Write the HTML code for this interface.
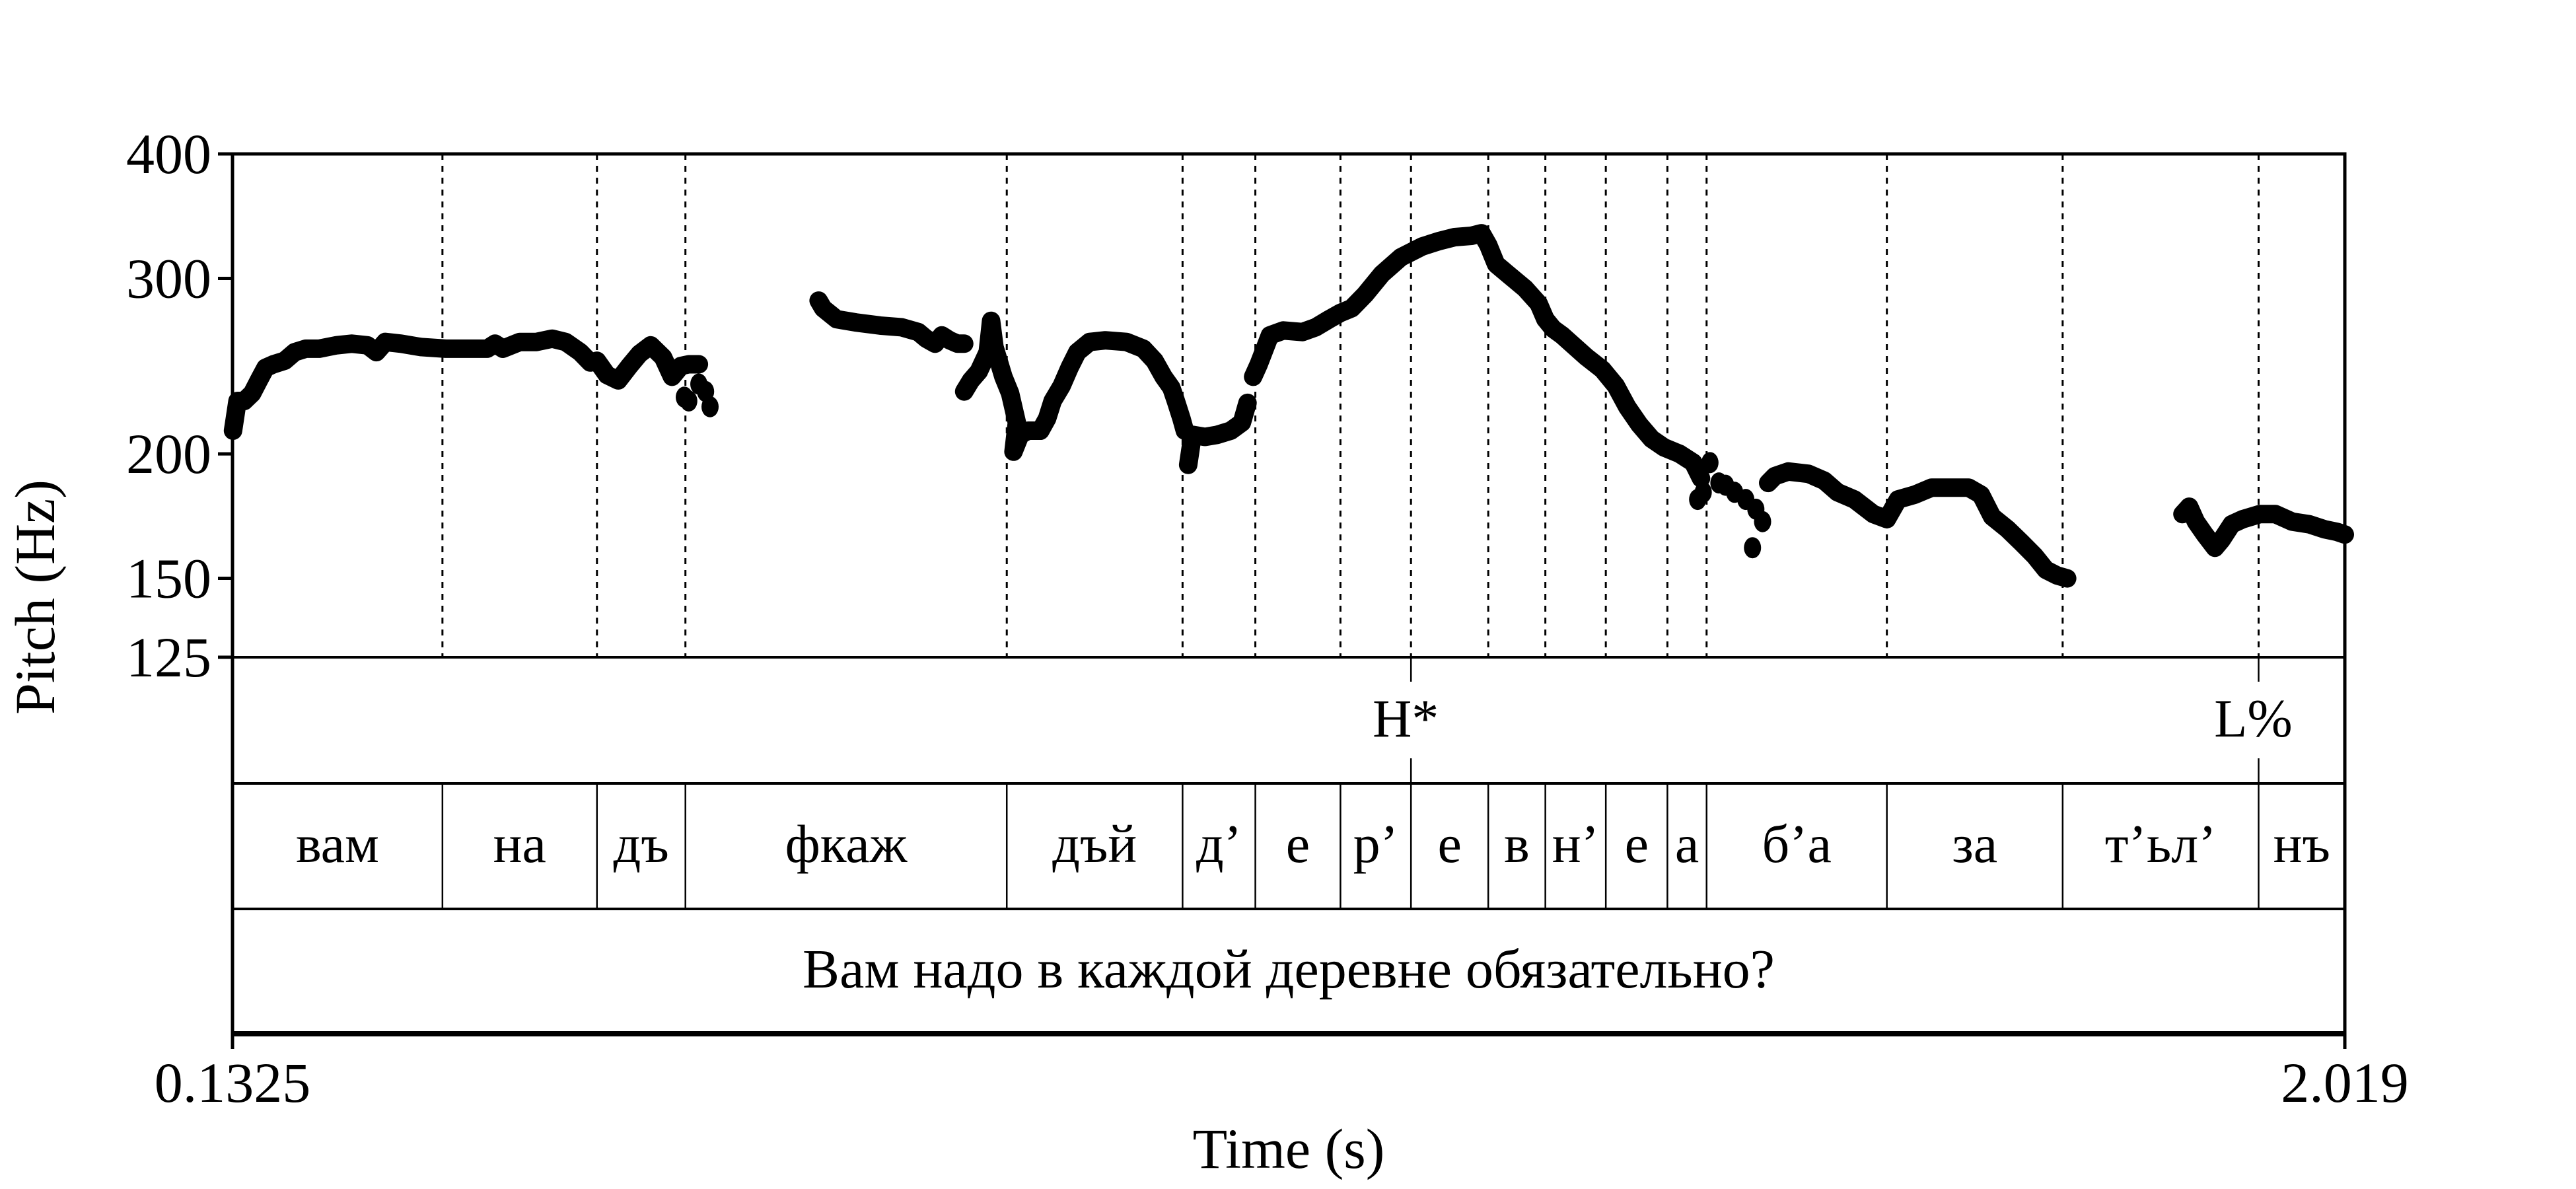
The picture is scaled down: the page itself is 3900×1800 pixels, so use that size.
<!DOCTYPE html>
<html><head><meta charset="utf-8"><style>
html,body{margin:0;padding:0;background:#fff;}
svg{display:block;}
text{font-family:"Liberation Serif","DejaVu Serif",serif;fill:#000;}
</style></head>
<body>
<svg id="chart" width="3900" height="1800" viewBox="0 0 3900 1800" xmlns="http://www.w3.org/2000/svg">
<g id="grid"></g>
<g id="pitch"></g>
<g id="frame"></g>
<g id="labels"></g>
</svg>
<script>
// ---- data ----
const yTicks = [400, 300, 200, 150, 125];
const xTickLabels = ["0.1325", "2.019"];
const tMin = 0.1325, tMax = 2.019;
const boundaryTimes = [0.320,0.458,0.537,0.824,0.981,1.046,1.122,1.185,1.254,1.305,1.359,1.414,1.449,1.610,1.767,1.942];
const syllables = ["вам","на","дъ","фкаж","дъй","д’","е","р’","е","в","н’","е","а","б’а","за","т’ьл’","нъ"];
const toneTimes = [1.185, 1.942];
const toneLabels = ["H*", "L%"];
const sentence = "Вам надо в каждой деревне обязательно?";

const seg1T = [.133,.137,.143,.150,.156,.162,.169,.179,.188,.198,.210,.225,.239,.253,.261,.269,.283,.301,.323,.345,.360,.367,.374,.389,.404,.418,.430,.443,.452,.458,.467,.477,.487,.496,.506,.517,.525,.533,.540,.549];
const seg1H = [211,226,226,230,237,244,246,248,253,255,255,257,258,257,253,259,258,256,255,255,255,258,255,259,259,261,259,253,247,248,240,237,245,252,257,250,239,245,246,246];
const seg2T = [.656,.660,.672,.689,.711,.730,.745,.752,.760,.766,.773,.780,.786];
const seg2H = [285,280,273,271,269,268,265,261,258,263,260,258,258];
const seg3T = [.786,.792,.799,.807,.810,.813,.821,.827,.833,.830,.836,.843,.854,.860,.865,.873,.880,.887,.898,.912,.931,.946,.956,.964,.971,.975,.980,.983];
const seg3H = [231,237,242,253,272,256,239,230,215,201,209,211,211,217,226,234,244,253,259,260,259,255,248,239,233,226,217,211];
const seg4T = [.986,.990,1.001,1.012,1.024,1.034,1.039];
const seg4H = [195,209,208,209,211,215,225];
const seg5T = [1.044,1.049,1.059,1.071,1.088,1.100,1.112,1.122,1.132,1.144,1.159,1.176,1.195,1.210,1.224,1.239,1.248,1.254,1.261,1.273,1.287,1.299,1.305,1.312,1.320,1.330,1.342,1.356,1.368,1.378,1.389,1.400,1.411,1.425,1.437,1.444];
const seg5H = [239,246,263,266,265,268,273,277,280,289,303,315,323,327,330,331,333,324,310,302,293,283,273,267,263,257,250,243,234,223,214,207,203,200,196,189];
const scatterT = [.536,.540,.549,.555,.559,1.441,1.452,1.460,1.466,1.474,1.484,1.493,1.499,1.490,1.446];
const scatterH = [228,226,235,231,223,180,196,187,186,183,180,176,171,161,183];
const seg6T = [1.504,1.510,1.522,1.540,1.554,1.566,1.581,1.598,1.610,1.620,1.635,1.650,1.664,1.683,1.694,1.704,1.718,1.730,1.742,1.752,1.762,1.771];
const seg6H = [187,190,192,191,188,183,180,174,172,180,182,185,185,185,182,173,168,163,158,153,151,150];
const seg7T = [1.874,1.880,1.886,1.894,1.903,1.909,1.918,1.928,1.943,1.957,1.972,1.987,2.001,2.012,2.019];
const seg7H = [174,177,171,166,161,164,170,172,174,174,171,170,168,167,166];

// ---- geometry ----
const X0 = 352, X1 = 3550, Y0 = 233, Y1 = 995;
const T1B = 1186, T2B = 1376, T3B = 1565;
const NS = "http://www.w3.org/2000/svg";
function xs(t){ return X0 + (t - tMin) / (tMax - tMin) * (X1 - X0); }
function ys(h){ return Y0 + Math.log(400 / h) / Math.log(400 / 125) * (Y1 - Y0); }
function mk(tag, attrs, parent){
  const el = document.createElementNS(NS, tag);
  for (const k in attrs) el.setAttribute(k, attrs[k]);
  parent.appendChild(el);
  return el;
}
const grid = document.getElementById('grid');
const pitch = document.getElementById('pitch');
const frame = document.getElementById('frame');
const labels = document.getElementById('labels');

boundaryTimes.forEach(function(t){
  const x = xs(t);
  const d = mk('line', {x1:x, y1:Y0, x2:x, y2:Y1, stroke:'#000', 'stroke-width':3, 'stroke-dasharray':'9 9'}, grid);
  
  
  const s = mk('line', {x1:x, y1:T1B, x2:x, y2:T2B, stroke:'#000', 'stroke-width':2.5}, grid);
  
  
});
toneTimes.forEach(function(t){
  const x = xs(t);
  const a = mk('line', {x1:x, y1:Y1, x2:x, y2:1032, stroke:'#000', 'stroke-width':2.5}, grid);
  
  
  const b = mk('line', {x1:x, y1:1148, x2:x, y2:T1B, stroke:'#000', 'stroke-width':2.5}, grid);
  
  
});

function drawSeg(T, H, name){
  let d = '';
  T.forEach(function(t, i){ d += (i ? 'L' : 'M') + xs(t).toFixed(1) + ' ' + ys(H[i]).toFixed(1); });
  const p = mk('path', {d:d, fill:'none', stroke:'#000', 'stroke-width':28, 'stroke-linecap':'round', 'stroke-linejoin':'round'}, pitch);
  
  
}
drawSeg(seg1T, seg1H, 'pitch-segment-1');
drawSeg(seg2T, seg2H, 'pitch-segment-2');
drawSeg(seg3T, seg3H, 'pitch-segment-3');
drawSeg(seg4T, seg4H, 'pitch-segment-4');
drawSeg(seg5T, seg5H, 'pitch-segment-5');
drawSeg(seg6T, seg6H, 'pitch-segment-6');
drawSeg(seg7T, seg7H, 'pitch-segment-7');
scatterT.forEach(function(t, i){
  const c = mk('ellipse', {cx:xs(t), cy:ys(scatterH[i]), rx:13, ry:16, fill:'#000'}, pitch);
  
  
});

function hline(y, w, name){
  const l = mk('line', {x1:X0, y1:y, x2:X1, y2:y, stroke:'#000', 'stroke-width':w}, frame);
  
  
}
hline(Y0, 5, 'plot-top-border');
hline(Y1, 4, 'pitch-bottom-line');
hline(T1B, 4, 'tone-tier-bottom');
hline(T2B, 4, 'syllable-tier-bottom');
hline(T3B, 8, 'sentence-tier-bottom');
[X0, X1].forEach(function(x, i){
  const l = mk('line', {x1:x, y1:Y0 - 2.5, x2:x, y2:1588, stroke:'#000', 'stroke-width':5}, frame);
  
  
});
yTicks.forEach(function(v){
  const y = ys(v);
  const tk = mk('line', {x1:330, y1:y, x2:X0, y2:y, stroke:'#000', 'stroke-width':5}, frame);
  
  
  const tx = mk('text', {x:320, y:y + 29, 'text-anchor':'end', 'font-size':86}, labels);
  tx.textContent = v;
  
  
});
[tMin, tMax].forEach(function(t, i){
  const tx = mk('text', {x:xs(t), y:1668, 'text-anchor':'middle', 'font-size':86}, labels);
  tx.textContent = xTickLabels[i];
  
  
});
const xt = mk('text', {x:(X0 + X1) / 2, y:1768, 'text-anchor':'middle', 'font-size':86}, labels);
xt.textContent = 'Time (s)';


const yt = mk('text', {x:0, y:0, 'text-anchor':'middle', 'font-size':86, transform:'translate(82 ' + ((Y0 + Y1) / 2 + 290) + ') rotate(-90)'}, labels);
yt.textContent = 'Pitch (Hz)';



toneTimes.forEach(function(t, i){
  const tx = mk('text', {x:xs(t) - 8, y:1115, 'text-anchor':'middle', 'font-size':82}, labels);
  tx.textContent = toneLabels[i];
  
  
});
const edges = [tMin].concat(boundaryTimes, [tMax]);
syllables.forEach(function(s, i){
  const cx = (xs(edges[i]) + xs(edges[i + 1])) / 2;
  const tx = mk('text', {x:cx, y:1305, 'text-anchor':'middle', 'font-size':82}, labels);
  tx.textContent = s;
  
  
});
const st = mk('text', {x:(X0 + X1) / 2, y:1495, 'text-anchor':'middle', 'font-size':84}, labels);
st.textContent = sentence;


</script>
</body></html>
